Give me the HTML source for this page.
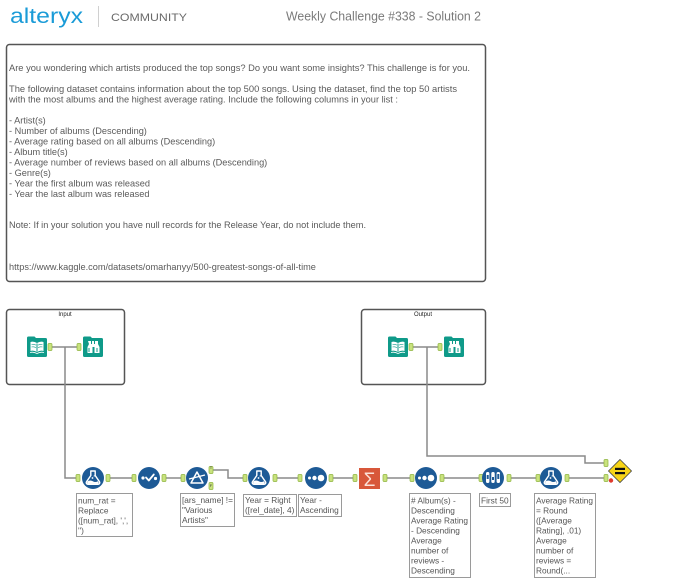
<!DOCTYPE html>
<html><head><meta charset="utf-8">
<style>
html,body{margin:0;padding:0;background:#fff;}
body{width:695px;height:588px;overflow:hidden;}
svg{display:block;}
text{font-family:"Liberation Sans",sans-serif;}
</style></head>
<body>
<svg width="695" height="588" viewBox="0 0 695 588" xmlns="http://www.w3.org/2000/svg">
<defs>
  <g id="anc"><rect x="0" y="0" width="4" height="7" rx="1" fill="#c9e27e" stroke="#8db33d" stroke-width="0.7"/></g>
  <g id="formula">
    <circle cx="0" cy="0" r="11" fill="#1d5a96"/>
    <path d="M-2.2,-7 h4.4 v4.5 l4.3,6.3 a1.6,1.6 0 0 1 -1.3,2.5 h-10.4 a1.6,1.6 0 0 1 -1.3,-2.5 l4.3,-6.3 z" fill="none" stroke="#fff" stroke-width="1.4" stroke-linejoin="round"/>
    <path d="M-5.2,3.2 q2.5,-1.5 5,0 t5,0 l0.8,1.2 a1,1 0 0 1 -0.8,1.5 h-9.8 a1,1 0 0 1 -0.8,-1.5 z" fill="#fff"/>
    <circle cx="-0.5" cy="0" r="0.9" fill="#fff"/><circle cx="1.2" cy="-2" r="0.6" fill="#fff"/>
  </g>
  <g id="sort">
    <circle cx="0" cy="0" r="11" fill="#1d5a96"/>
    <circle cx="-6.5" cy="0" r="1.5" fill="#fff"/>
    <circle cx="-1.5" cy="0" r="2.2" fill="#fff"/>
    <circle cx="5" cy="0" r="3.3" fill="#fff"/>
  </g>
  <g id="book">
    <path d="M0,2 a1.5,1.5 0 0 1 1.5,-1.5 h6 l1.5,1.5 h9.5 a1.5,1.5 0 0 1 1.5,1.5 v16 a1.5,1.5 0 0 1 -1.5,1.5 h-17 a1.5,1.5 0 0 1 -1.5,-1.5 z" fill="#0f9a89"/>
    <path d="M3.5,6 q3,-1 6.5,1 q3.5,-2 6.5,-1 v9 q-3,-1 -6.5,1 q-3.5,-2 -6.5,-1 z" fill="#fff"/>
    <path d="M10,7.5 v8" stroke="#0f9a89" stroke-width="1"/>
    <path d="M4.5,8.5 q2.5,-0.6 4.5,0.6 M4.5,11 q2.5,-0.6 4.5,0.6 M11,9.1 q2,-1.2 4.5,-0.6 M11,11.6 q2,-1.2 4.5,-0.6" stroke="#0f9a89" stroke-width="0.6" fill="none"/>
    <path d="M3,16.5 q3.5,-1 7,1 q3.5,-2 7,-1" stroke="#fff" stroke-width="0.8" fill="none"/>
  </g>
  <g id="browse">
    <path d="M0,2 a1.5,1.5 0 0 1 1.5,-1.5 h6 l1.5,1.5 h9.5 a1.5,1.5 0 0 1 1.5,1.5 v16 a1.5,1.5 0 0 1 -1.5,1.5 h-17 a1.5,1.5 0 0 1 -1.5,-1.5 z" fill="#0f9a89"/>
    <path d="M5,5 h3 v3 l1,0 v-3 h2 v3 l1,0 v-3 h3 v3 l1.5,3 v6 h-5 v-6 h-2 v6 h-5 v-6 l1.5,-3 z" fill="#fff"/>
    <path d="M6,12 v4 M14,12 v4" stroke="#0f9a89" stroke-width="1"/>
  </g>
</defs>

<!-- Header -->
<text x="10" y="23" font-size="21" fill="#1a9bd7" textLength="73" lengthAdjust="spacingAndGlyphs">alteryx</text>
<line x1="98.5" y1="6" x2="98.5" y2="27" stroke="#d0d0d0" stroke-width="1"/>
<text x="111" y="21" font-size="11" fill="#6a6a6a" textLength="76" lengthAdjust="spacingAndGlyphs">COMMUNITY</text>
<text x="286" y="20.5" font-size="12.5" fill="#7a7a7a" textLength="195" lengthAdjust="spacingAndGlyphs">Weekly Challenge #338 - Solution 2</text>

<!-- Description box -->
<rect x="6.5" y="44.5" width="479" height="237" rx="3" fill="#fff" stroke="#555" stroke-width="1.5"/>
<g font-size="9.2" fill="#5a5a5a">
<text x="9" y="71" textLength="461" lengthAdjust="spacingAndGlyphs">Are you wondering which artists produced the top songs? Do you want some insights? This challenge is for you.</text>
<text x="9" y="92" textLength="448" lengthAdjust="spacingAndGlyphs">The following dataset contains information about the top 500 songs. Using the dataset, find the top 50 artists</text>
<text x="9" y="102.5" textLength="389" lengthAdjust="spacingAndGlyphs">with the most albums and the highest average rating. Include the following columns in your list :</text>
<text x="9" y="123.5">- Artist(s)</text>
<text x="9" y="134">- Number of albums (Descending)</text>
<text x="9" y="144.5">- Average rating based on all albums (Descending)</text>
<text x="9" y="155">- Album title(s)</text>
<text x="9" y="165.5">- Average number of reviews based on all albums (Descending)</text>
<text x="9" y="176">- Genre(s)</text>
<text x="9" y="186.5">- Year the first album was released</text>
<text x="9" y="197">- Year the last album was released</text>
<text x="9" y="228">Note: If in your solution you have null records for the Release Year, do not include them.</text>
<text x="9" y="270">https://www.kaggle.com/datasets/omarhanyy/500-greatest-songs-of-all-time</text>
</g>

<!-- Containers -->
<rect x="6.5" y="309.5" width="118" height="75" rx="3" fill="#fff" stroke="#555" stroke-width="1.5"/>
<text x="65" y="316" font-size="6" fill="#222" text-anchor="middle">Input</text>
<rect x="361.5" y="309.5" width="124" height="75" rx="3" fill="#fff" stroke="#555" stroke-width="1.5"/>
<text x="423" y="316" font-size="6" fill="#222" text-anchor="middle">Output</text>

<!-- Connections -->
<g stroke="#8a8a8a" stroke-width="1.5" fill="none">
  <path d="M52,347 H77"/>
  <path d="M65,347 V478 H77"/>
  <path d="M413,347 H438"/>
  <path d="M427,347 V456 H585 V463 H604"/>
  <path d="M110,478 H132"/>
  <path d="M166,478 H181"/>
  <path d="M213,470 H228 V478 H243"/>
  <path d="M277,478 H298"/>
  <path d="M333,478 H353"/>
  <path d="M387,478 H410"/>
  <path d="M444,478 H479"/>
  <path d="M511,478 H536"/>
  <path d="M569,478 H604"/>
</g>

<!-- Input container tools -->
<use href="#book" x="27" y="336"/>
<use href="#anc" x="48" y="343.5"/>
<use href="#anc" x="77" y="343.5"/>
<use href="#browse" x="83" y="336"/>

<use href="#book" x="388" y="336"/>
<use href="#anc" x="409" y="343.5"/>
<use href="#anc" x="438" y="343.5"/>
<use href="#browse" x="444" y="336"/>

<!-- Main flow tools -->
<use href="#anc" x="76" y="474.5"/>
<use href="#formula" x="93" y="478"/>
<use href="#anc" x="106" y="474.5"/>

<use href="#anc" x="132" y="474.5"/>
<g transform="translate(149,478)">
  <circle r="11" fill="#1d5a96"/>
  <circle cx="-6" cy="0" r="1.6" fill="#fff"/>
  <path d="M-3,-0.5 l2.8,3 l5,-6" stroke="#fff" stroke-width="1.8" fill="none" stroke-linecap="round" stroke-linejoin="round"/>
  <circle cx="6.5" cy="0.5" r="1.6" fill="#fff"/>
</g>
<use href="#anc" x="162" y="474.5"/>

<use href="#anc" x="181" y="474.5"/>
<g transform="translate(197,478)">
  <circle r="11" fill="#1d5a96"/>
  <path d="M0,-6 L6,5 H-6 Z" fill="none" stroke="#fff" stroke-width="1.5" stroke-linejoin="round"/>
  <path d="M-8,1 L8,-3" stroke="#fff" stroke-width="1.3"/>
</g>
<use href="#anc" x="209" y="466.5"/>
<text x="211" y="469" font-size="4" fill="#333" text-anchor="middle">T</text>
<use href="#anc" x="209" y="482.5"/>
<text x="211" y="487" font-size="4" fill="#333" text-anchor="middle">F</text>

<use href="#anc" x="243" y="474.5"/>
<use href="#formula" x="259" y="478"/>
<use href="#anc" x="273" y="474.5"/>

<use href="#anc" x="298" y="474.5"/>
<use href="#sort" x="316" y="478"/>
<use href="#anc" x="329" y="474.5"/>

<use href="#anc" x="353" y="474.5"/>
<rect x="359" y="468" width="21" height="21" fill="#d8573a"/>
<text x="369.5" y="486" font-size="19" fill="#fbe1d8" text-anchor="middle">Σ</text>
<use href="#anc" x="383" y="474.5"/>

<use href="#anc" x="410" y="474.5"/>
<use href="#sort" x="426" y="478"/>
<use href="#anc" x="440" y="474.5"/>

<use href="#anc" x="479" y="474.5"/>
<g transform="translate(493,478)">
  <circle r="11" fill="#1d5a96"/>
  <rect x="-7" y="-6" width="3.4" height="11" rx="1.5" fill="#fff"/>
  <rect x="-1.7" y="-6" width="3.4" height="11" rx="1.5" fill="#fff"/>
  <rect x="3.6" y="-6" width="3.4" height="11" rx="1.5" fill="#fff"/>
  <rect x="-6.3" y="-3" width="2" height="4" fill="#1d5a96"/>
  <rect x="-1" y="-1" width="2" height="3" fill="#1d5a96"/>
  <rect x="4.3" y="-4" width="2" height="5" fill="#1d5a96"/>
</g>
<use href="#anc" x="507" y="474.5"/>

<use href="#anc" x="536" y="474.5"/>
<use href="#formula" x="551" y="478"/>
<use href="#anc" x="565" y="474.5"/>

<use href="#anc" x="604" y="459.5"/>
<use href="#anc" x="604" y="474.5"/>
<g transform="translate(620,471)">
  <path d="M0,-11.5 L11.5,0 L0,11.5 L-11.5,0 Z" fill="#f7d417" stroke="#444" stroke-width="0.8"/>
  <rect x="-5" y="-3.2" width="10" height="2.2" fill="#111"/>
  <rect x="-5" y="1" width="10" height="2.2" fill="#111"/>
</g>
<circle cx="611" cy="480.5" r="2.2" fill="#e03a2e"/>

<!-- Annotations -->
<g fill="#fff" stroke="#9a9a9a" stroke-width="1">
  <rect x="76.5" y="493.5" width="56" height="43"/>
  <rect x="180.5" y="493.5" width="54" height="33"/>
  <rect x="243.5" y="494.5" width="53" height="22"/>
  <rect x="298.5" y="494.5" width="43" height="22"/>
  <rect x="409.5" y="493.5" width="61" height="84"/>
  <rect x="479.5" y="493.5" width="31" height="13"/>
  <rect x="534.5" y="493.5" width="61" height="84"/>
</g>
<g font-size="8.3" fill="#555">
  <text x="78" y="503.5">num_rat =</text>
  <text x="78" y="513.5">Replace</text>
  <text x="78" y="523.5">([num_rat], ',',</text>
  <text x="78" y="533.5">'')</text>

  <text x="182" y="503">[ars_name] !=</text>
  <text x="182" y="513">"Various</text>
  <text x="182" y="523">Artists"</text>

  <text x="245" y="503">Year = Right</text>
  <text x="245" y="513">([rel_date], 4)</text>

  <text x="300" y="503">Year -</text>
  <text x="300" y="513">Ascending</text>

  <text x="411" y="503.5"># Album(s) -</text>
  <text x="411" y="513.5">Descending</text>
  <text x="411" y="523.5">Average Rating</text>
  <text x="411" y="533.5">- Descending</text>
  <text x="411" y="543.5">Average</text>
  <text x="411" y="553.5">number of</text>
  <text x="411" y="563.5">reviews -</text>
  <text x="411" y="573.5">Descending</text>

  <text x="481" y="503.5">First 50</text>

  <text x="536" y="503.5">Average Rating</text>
  <text x="536" y="513.5">= Round</text>
  <text x="536" y="523.5">([Average</text>
  <text x="536" y="533.5">Rating], .01)</text>
  <text x="536" y="543.5">Average</text>
  <text x="536" y="553.5">number of</text>
  <text x="536" y="563.5">reviews =</text>
  <text x="536" y="573.5">Round(...</text>
</g>
</svg>
</body></html>
